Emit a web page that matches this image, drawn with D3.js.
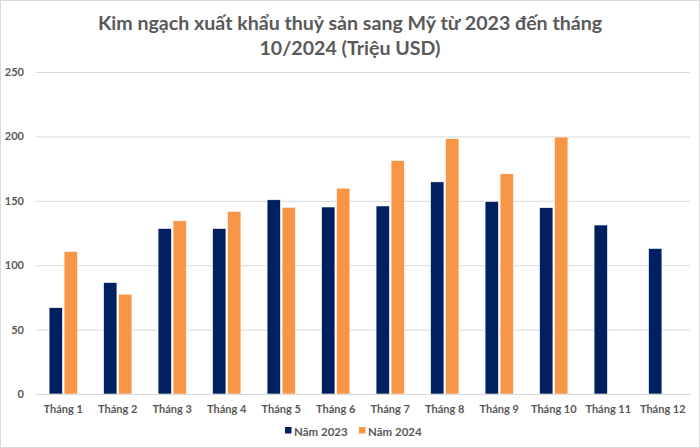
<!DOCTYPE html>
<html lang="vi">
<head>
    <meta charset="UTF-8">
    <title>Kim ngạch xuất khẩu thuỷ sản sang Mỹ</title>
    <script src="https://d3js.org/d3.v7.min.js"></script>
    <style>
        body { margin: 0; background: #fff; }
        text { font-family: Lato, "Open Sans", sans-serif; fill: #595959; }
        .title { font-size: 19.6px; font-weight: bold; }
        .tick text { font-size: 11px; font-weight: bold; }
        .legend-text { font-size: 11.5px; font-weight: bold; }
    </style>
</head>
<body>
    <div id="chart"></div>
    <script>
        const width = 700;
        const height = 448;

        // data
        const months = ["Tháng 1", "Tháng 2", "Tháng 3", "Tháng 4", "Tháng 5", "Tháng 6",
                        "Tháng 7", "Tháng 8", "Tháng 9", "Tháng 10", "Tháng 11", "Tháng 12"];
        const values2023 = [67, 86.5, 128.5, 128.5, 150.8, 145.2, 146, 164.7, 149.5, 144.7, 131.2, 113];
        const values2024 = [110.7, 77.5, 134.5, 141.8, 145, 159.8, 181.3, 198.3, 171, 199.5, null, null];
        const seriesNames = ["Năm 2023", "Năm 2024"];
        const colors = ["#002060", "#F79646"];
        const yTicks = [0, 50, 100, 150, 200, 250];

        const margin = { top: 72, right: 10, bottom: 54, left: 36 };

        const svg = d3.select("#chart")
            .append("svg")
            .attr("width", width)
            .attr("height", height);

        // chart border
        svg.append("rect")
            .attr("x", 0.5).attr("y", 0.5)
            .attr("width", width - 1).attr("height", height - 1)
            .attr("fill", "none")
            .attr("stroke", "#d9d9d9");

        // title
        const title = svg.append("text")
            .attr("class", "title")
            .attr("text-anchor", "middle");
        title.append("tspan").attr("x", width / 2).attr("y", 30)
            .text("Kim ngạch xuất khẩu thuỷ sản sang Mỹ từ 2023 đến tháng");
        title.append("tspan").attr("x", width / 2).attr("y", 55)
            .text("10/2024 (Triệu USD)");

        const x = d3.scaleBand()
            .domain(months)
            .range([margin.left, width - margin.right])
            .paddingInner(0.48)
            .paddingOuter(0.24);

        const x1 = d3.scaleBand()
            .domain(seriesNames)
            .range([0, x.bandwidth()])
            .paddingInner(0.11);

        const y = d3.scaleLinear()
            .domain([0, 250])
            .range([height - margin.bottom, margin.top]);

        // gridlines + y labels
        const yAxis = svg.append("g")
            .attr("transform", `translate(${margin.left},0)`)
            .call(d3.axisLeft(y).tickValues(yTicks).tickSize(-(width - margin.left - margin.right)).tickPadding(12));
        yAxis.select(".domain").remove();
        yAxis.selectAll(".tick line").attr("stroke", "#d9d9d9");

        // bars
        const series = [values2023, values2024];
        const groups = svg.append("g")
            .selectAll("g")
            .data(months)
            .join("g")
            .attr("transform", d => `translate(${x(d)},0)`);

        groups.selectAll("rect")
            .data((d, i) => seriesNames.map((s, j) => ({ s: s, v: series[j][i], j: j })).filter(e => e.v != null))
            .join("rect")
            .attr("x", d => x1(d.s))
            .attr("y", d => y(d.v))
            .attr("width", x1.bandwidth())
            .attr("height", d => y(0) - y(d.v))
            .attr("fill", d => colors[d.j])
            .attr("stroke", "#fff")
            .attr("stroke-width", 0.6);

        // x axis
        const xAxis = svg.append("g")
            .attr("transform", `translate(0,${y(0)})`)
            .call(d3.axisBottom(x).tickSize(0).tickPadding(11));
        xAxis.select(".domain").attr("stroke", "#d9d9d9");
        xAxis.selectAll("text").style("font-size", "11px");

        // legend
        const legend = svg.append("g").attr("transform", "translate(285,432)");
        const item = legend.selectAll("g")
            .data(seriesNames)
            .join("g")
            .attr("transform", (d, i) => `translate(${i * 74},0)`);
        item.append("rect")
            .attr("x", 0).attr("y", -5)
            .attr("width", 6.5).attr("height", 6.5)
            .attr("fill", (d, i) => colors[i]);
        item.append("text")
            .attr("class", "legend-text")
            .attr("x", 9).attr("y", 3.5)
            .text(d => d);
    </script>
</body>
</html>
